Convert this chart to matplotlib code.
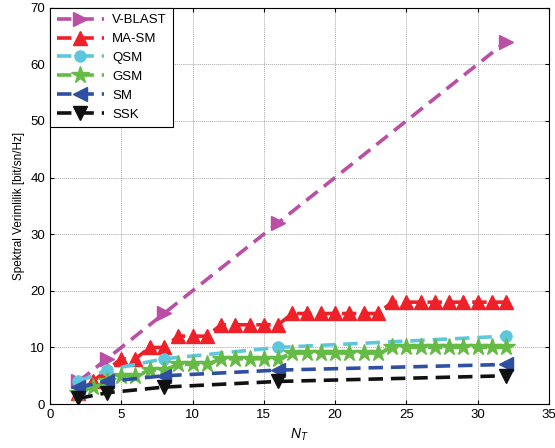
import matplotlib
matplotlib.use("Agg")
import matplotlib.pyplot as plt
import numpy as np

plt.rcParams.update({
    "font.family": ["Liberation Sans", "DejaVu Sans"],
    "font.size": 9,
    "mathtext.fontset": "custom",
    "mathtext.it": "Liberation Sans:italic",
    "mathtext.rm": "Liberation Sans",
})

# data
nt_pow = [2, 4, 8, 16, 32]
nt_all = list(range(2, 33))

vblast = [4, 8, 16, 32, 64]
qsm = [4, 6, 8, 10, 12]
sm = [3, 4, 5, 6, 7]
ssk = [1, 2, 3, 4, 5]

masm = [2, 4, 6, 8, 8, 10, 10, 12, 12, 12,
        14, 14, 14, 14, 14,
        16, 16, 16, 16, 16, 16, 16,
        18, 18, 18, 18, 18, 18, 18, 18, 18]
gsm = [2, 3, 4, 5, 5, 6, 6, 7, 7, 7,
       8, 8, 8, 8, 8,
       9, 9, 9, 9, 9, 9, 9,
       10, 10, 10, 10, 10, 10, 10, 10, 10]

MAGENTA = "#bb4fa6"
RED = "#ee2129"
CYAN = "#5ec7de"
GREEN = "#66bb46"
BLUE = "#2e4fa2"
BLACK = "#111111"

fig = plt.figure(figsize=(5.55, 4.48), dpi=100)
ax = fig.add_axes([0.090, 0.098, 0.899, 0.885])

common = dict(linestyle="--", linewidth=2.6, dashes=(4, 2.2))
ax.plot(nt_pow, vblast, color=MAGENTA, marker=">", markersize=10, label="V-BLAST", **common)
ax.plot(nt_all, masm, color=RED, marker="^", markersize=10, label="MA-SM", **common)
ax.plot(nt_pow, qsm, color=CYAN, marker="o", markersize=8, label="QSM", **common)
ax.plot(nt_all, gsm, color=GREEN, marker="*", markersize=13, label="GSM", **common)
ax.plot(nt_pow, sm, color=BLUE, marker="<", markersize=10, label="SM", **common)
ax.plot(nt_pow, ssk, color=BLACK, marker="v", markersize=10, label="SSK", **common)

ax.set_xlim(0, 35)
ax.set_ylim(0, 70)
ax.set_xticks(np.arange(0, 36, 5))
ax.set_yticks(np.arange(0, 71, 10))
ax.tick_params(direction="in", length=3, labelsize=9.5, top=True, right=True)
ax.grid(True, color="#a8a8a8", linewidth=0.7, linestyle=(0, (1, 1)))
ax.set_axisbelow(True)
ax.set_xlabel("$N_T$", fontsize=10)
ax.set_ylabel("Spektral Verimlilik [bit/sn/Hz]", fontsize=8.5)

leg = ax.legend(loc="upper left", borderaxespad=0, fancybox=False, framealpha=1,
                edgecolor="black", handlelength=3.6, fontsize=9.5, labelspacing=0.5,
                borderpad=0.5, handletextpad=0.6)
leg.get_frame().set_linewidth(0.8)

fig.savefig("out.png", dpi=100)
